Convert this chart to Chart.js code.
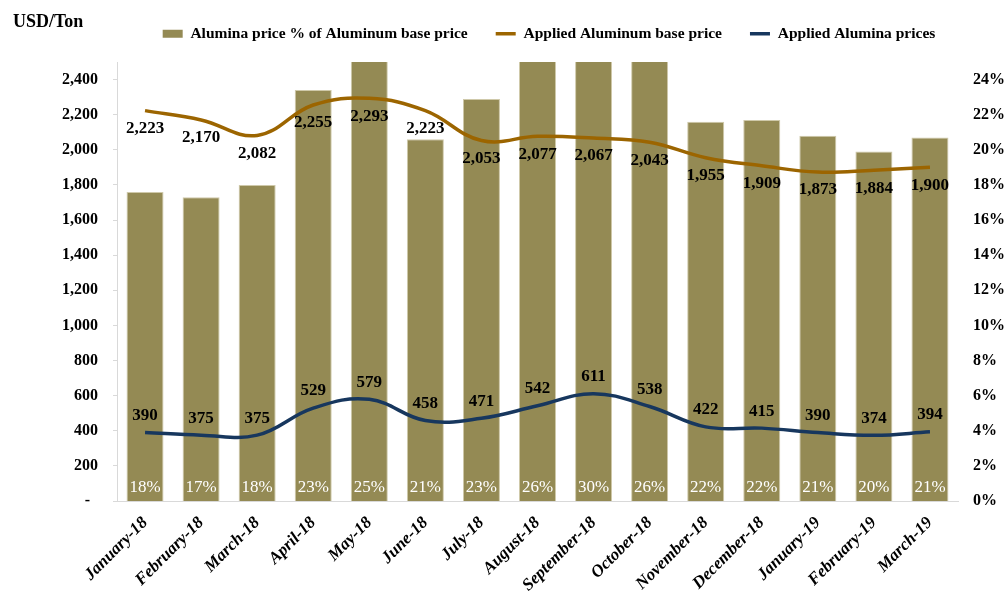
<!DOCTYPE html>
<html>
<head>
<meta charset="utf-8">
<script src="https://cdn.jsdelivr.net/npm/chart.js@4.4.1/dist/chart.umd.min.js"></script>
<style>
    body { margin: 0; background: #fff; }
    #wrap { width: 1008px; height: 595px; position: relative; }
</style>
</head>
<body>
<div id="wrap"><canvas id="grafico"></canvas></div>
<script>
const meses = ["January-18", "February-18", "March-18", "April-18", "May-18", "June-18", "July-18",
    "August-18", "September-18", "October-18", "November-18", "December-18", "January-19",
    "February-19", "March-19"];
const percentual = [17.6, 17.3, 18.0, 23.4, 25.3, 20.6, 22.9, 26.1, 29.6, 26.3, 21.6, 21.7, 20.8, 19.9, 20.7];
const aluminio = [2223, 2170, 2082, 2255, 2293, 2223, 2053, 2077, 2067, 2043, 1955, 1909, 1873, 1884, 1900];
const alumina = [390, 375, 375, 529, 579, 458, 471, 542, 611, 538, 422, 415, 390, 374, 394];

const fonte = "'Liberation Serif', serif";
const cinza = "#d9d9d9";

// rotulos de dados desenhados sobre os elementos do proprio grafico
const rotulos = {
    id: "rotulos",
    afterDatasetsDraw(chart) {
        const ctx = chart.ctx;
        ctx.save();
        ctx.textAlign = "center";
        ctx.textBaseline = "middle";
        chart.data.datasets.forEach((ds, i) => {
            const meta = chart.getDatasetMeta(i);
            meta.data.forEach((el, j) => {
                const v = ds.data[j];
                if (ds.type === "bar") {
                    ctx.font = "17px " + fonte;
                    ctx.fillStyle = "#fff";
                    ctx.fillText(Math.round(v) + "%", el.x, el.base - 13);
                } else {
                    ctx.font = "bold 17px " + fonte;
                    ctx.fillStyle = "#000";
                    const dy = ds.rotuloAbaixo ? 18 : -17;
                    ctx.fillText(v.toLocaleString("en-US"), el.x, el.y + dy);
                }
            });
        });
        ctx.restore();
    }
};

const unidade = {
    id: "unidade",
    beforeInit(chart) {
        const leg = chart.legend;
        const fit = leg.fit;
        leg.fit = function () {
            fit.bind(leg)();
            this.height = 62;
        };
        const draw = leg.draw;
        leg.draw = function () {
            chart.ctx.save();
            chart.ctx.translate(45, -2);
            draw.apply(leg, arguments);
            chart.ctx.restore();
        };
    },
    afterDraw(chart) {
        const ctx = chart.ctx;
        ctx.save();
        ctx.font = "bold 18px " + fonte;
        ctx.fillStyle = "#000";
        ctx.textBaseline = "middle";
        ctx.fillText("USD/Ton", 13, 22);
        ctx.restore();
    }
};

new Chart(document.getElementById("grafico"), {
    data: {
        labels: meses,
        datasets: [
            {
                type: "bar",
                label: "Alumina price % of Aluminum base price",
                data: percentual,
                yAxisID: "y1",
                backgroundColor: "#948a54",
                borderColor: "#cfc9aa",
                borderWidth: 1,
                categoryPercentage: 1,
                barPercentage: 0.66,
                order: 2
            },
            {
                type: "line",
                label: "Applied Aluminum base price",
                data: aluminio,
                yAxisID: "y",
                borderColor: "#9c6500",
                backgroundColor: "#9c6500",
                borderWidth: 3.5,
                tension: 0.4,
                pointRadius: 0,
                rotuloAbaixo: true,
                order: 1
            },
            {
                type: "line",
                label: "Applied Alumina prices",
                data: alumina,
                yAxisID: "y",
                borderColor: "#17375e",
                backgroundColor: "#17375e",
                borderWidth: 3.5,
                tension: 0.4,
                pointRadius: 0,
                order: 0
            }
        ]
    },
    options: {
        responsive: true,
        maintainAspectRatio: false,
        animation: false,
        layout: { padding: 0 },
        plugins: {
            tooltip: { enabled: false },
            legend: {
                position: "top",
                labels: {
                    color: "#000",
                    font: { family: fonte, size: 15.5, weight: "bold" },
                    padding: 28,
                    boxWidth: 20,
                    boxHeight: 8,
                    usePointStyle: true,
                    pointStyleWidth: 20,
                    generateLabels: chart => chart.data.datasets.map((ds, i) => ({
                        text: ds.label,
                        fillStyle: ds.backgroundColor,
                        strokeStyle: ds.type === "line" ? ds.borderColor : ds.backgroundColor,
                        lineWidth: ds.type === "line" ? 3.5 : 0,
                        pointStyle: ds.type === "line" ? "line" : "rect",
                        fontColor: "#000",
                        hidden: false,
                        datasetIndex: i
                    }))
                }
            }
        },
        scales: {
            x: {
                grid: { display: false },
                border: { color: cinza },
                ticks: {
                    color: "#000",
                    font: { family: fonte, size: 17, weight: "bold", style: "italic" },
                    minRotation: 45,
                    maxRotation: 45,
                    autoSkip: false,
                    padding: 4
                },
                afterFit: s => { s.height = 94; }
            },
            y: {
                position: "left",
                min: 0,
                max: 2500,
                grid: { display: true, drawOnChartArea: false, color: cinza, tickLength: 4 },
                border: { color: cinza },
                ticks: {
                    stepSize: 200,
                    includeBounds: false,
                    color: "#000",
                    padding: 15,
                    font: { family: fonte, size: 16, weight: "bold" },
                    callback: v => v === 0 ? "-  " : v.toLocaleString("en-US")
                },
                afterFit: s => { s.width = 117; }
            },
            y1: {
                position: "right",
                min: 0,
                max: 25,
                grid: { display: false, drawTicks: false },
                border: { display: false },
                ticks: {
                    stepSize: 2,
                    includeBounds: false,
                    color: "#000",
                    padding: 15,
                    font: { family: fonte, size: 16, weight: "bold" },
                    callback: v => v + "%"
                },
                afterFit: s => { s.width = 50; }
            }
        }
    },
    plugins: [rotulos, unidade]
});
</script>
</body>
</html>
